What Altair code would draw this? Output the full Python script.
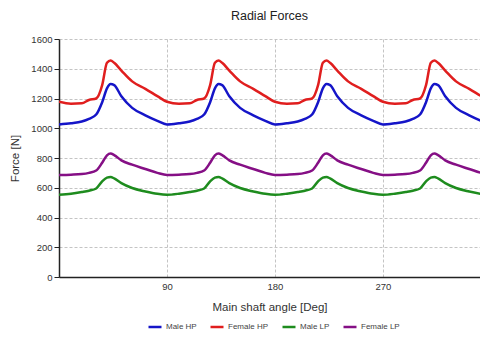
import altair as alt
import pandas as pd

# one 90-degree cycle (angle offset within cycle, degrees)
cycle_offsets = [0, 10, 19, 25, 31, 36, 40, 43, 46, 52, 61, 72, 82]
male_hp = [1025, 1033, 1045, 1063, 1092, 1175, 1268, 1297, 1290, 1215, 1137, 1087, 1050]
female_hp = [1178, 1165, 1168, 1190, 1200, 1290, 1440, 1455, 1440, 1388, 1315, 1265, 1216]
male_lp = [553, 560, 571, 580, 595, 643, 668, 672, 663, 631, 598, 575, 559]
female_lp = [686, 688, 692, 700, 716, 768, 818, 830, 820, 784, 755, 726, 700]

series_names = ["Male HP", "Female HP", "Male LP", "Female LP"]
series_colors = ["#1515c8", "#e01e1e", "#1e8c1e", "#850f85"]
cycle_starts = [0, 90, 180, 270]
y_ticks = [0, 200, 400, 600, 800, 1000, 1200, 1400, 1600]
x_ticks = [90, 180, 270, 360]

rows = []
for name, vals in zip(series_names, [male_hp, female_hp, male_lp, female_lp]):
    for s in cycle_starts:
        for off, v in zip(cycle_offsets, vals):
            rows.append({"angle": s + off, "force": v, "series": name})
    rows.append({"angle": 360, "force": vals[0], "series": name})
df = pd.DataFrame(rows)

FONT = "Liberation Sans"

chart = alt.Chart(df).mark_line(strokeWidth=2.5, interpolate="monotone", clip=True).encode(
    x=alt.X("angle:Q",
            scale=alt.Scale(domain=[0, 351], nice=False, zero=False),
            axis=alt.Axis(values=x_ticks, grid=True, gridDash=[3, 2], gridColor="#c4c4c4",
                          ticks=False, domainColor="#222222", domainWidth=1.5, format="d",
                          labelFont=FONT, labelFontSize=9.5, labelColor="#333333", labelPadding=4,
                          title="Main shaft angle [Deg]", titleFont=FONT, titleFontSize=11.5,
                          titleFontWeight="normal", titleColor="#333333", titlePadding=11)),
    y=alt.Y("force:Q",
            scale=alt.Scale(domain=[0, 1600], nice=False),
            axis=alt.Axis(values=y_ticks, grid=True, gridDash=[3, 2], gridColor="#c4c4c4",
                          ticks=True, tickSize=5, tickColor="#222222", domainColor="#222222",
                          domainWidth=1.5, format="d", labelFont=FONT, labelFontSize=9.5,
                          labelColor="#333333", labelPadding=2, title="Force [N]",
                          titleFont=FONT, titleFontSize=11.5, titleFontWeight="normal",
                          titleColor="#333333", titlePadding=10)),
    color=alt.Color("series:N",
                    scale=alt.Scale(domain=series_names, range=series_colors),
                    sort=series_names,
                    legend=alt.Legend(title=None, orient="none", direction="horizontal",
                                      legendX=88, legendY=280, symbolType="stroke",
                                      symbolStrokeWidth=2.5, symbolSize=169,
                                      labelFont=FONT, labelFontSize=8, labelColor="#444444",
                                      columnPadding=8, labelOffset=3)),
).properties(
    width=421, height=238,
    title=alt.TitleParams("Radial Forces", font=FONT, fontSize=12.5, fontWeight="normal",
                          color="#222222", offset=12),
    autosize=alt.AutoSizeParams(type="none"),
    padding={"left": 51, "top": 31, "right": 0, "bottom": 57},
).configure_view(stroke=None)

chart.save("out.html", embed_options={"renderer": "svg", "actions": False})
